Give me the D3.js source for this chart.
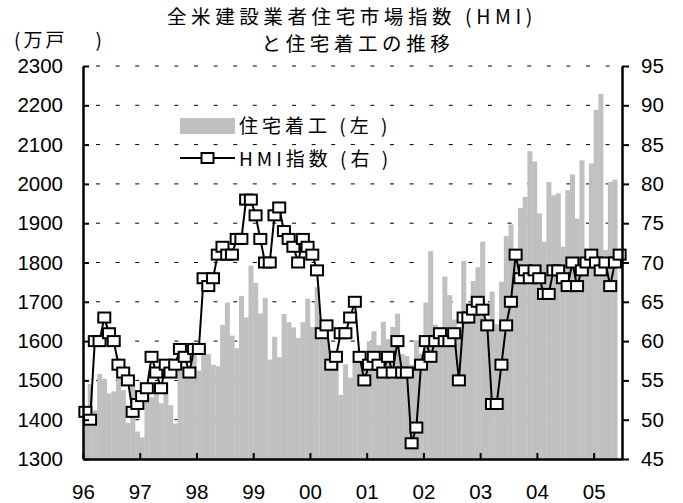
<!DOCTYPE html>
<html>
<head>
<meta charset="utf-8">
<script src="https://cdn.jsdelivr.net/npm/d3@7"></script>
<style>
body { margin: 0; background: #fff; }
text { font-family: "Liberation Sans", Arial, "Noto Sans CJK JP", sans-serif; fill: #000; }
.jp { font-family: "Noto Sans CJK JP", sans-serif; }
</style>
</head>
<body>
<svg id="chart" width="683" height="503"></svg>
<script>
// ---- data (monthly, Jan 1996 - ) ----

// housing starts, 万戸 (Jan 1996 - May 2005)
var starts1996 = [1431, 1491, 1424, 1516, 1504, 1467, 1472, 1557, 1475, 1392, 1489, 1370];
var starts1997 = [1355, 1486, 1457, 1492, 1442, 1494, 1437, 1390, 1546, 1520, 1510, 1566];
var starts1998 = [1525, 1584, 1567, 1540, 1536, 1641, 1698, 1614, 1582, 1715, 1660, 1792];
var starts1999 = [1748, 1670, 1710, 1553, 1611, 1559, 1669, 1648, 1635, 1608, 1648, 1708];
var starts2000 = [1636, 1737, 1604, 1626, 1575, 1559, 1463, 1541, 1507, 1549, 1551, 1532];
var starts2001 = [1600, 1625, 1590, 1649, 1605, 1636, 1670, 1567, 1562, 1540, 1602, 1568];
var starts2002 = [1698, 1829, 1642, 1592, 1764, 1717, 1655, 1633, 1804, 1648, 1753, 1788];
var starts2003 = [1853, 1629, 1726, 1643, 1751, 1867, 1897, 1833, 1939, 1967, 2083, 2057];
var starts2004 = [1925, 1853, 2005, 1971, 1976, 1840, 1984, 2024, 1912, 2060, 1782, 2052];
var starts2005 = [2188, 2229, 1832, 2005, 2011];

// HMI (Jan 1996 - Jun 2005)
var hmi1996 = [51, 50, 60, 60, 63, 61, 60, 57, 56, 55, 51, 52];
var hmi1997 = [53, 54, 58, 56, 54, 57, 56, 57, 59, 58, 56, 59];
var hmi1998 = [59, 68, 67, 68, 71, 72, 71, 71, 73, 73, 78, 78];
var hmi1999 = [76, 73, 70, 70, 76, 77, 74, 73, 72, 70, 73, 72];
var hmi2000 = [71, 69, 61, 62, 57, 58, 61, 61, 63, 65, 58, 55];
var hmi2001 = [57, 58, 57, 56, 58, 56, 60, 56, 56, 47, 49, 57];
var hmi2002 = [60, 58, 60, 61, 60, 60, 61, 55, 63, 63, 64, 65];
var hmi2003 = [64, 62, 52, 52, 57, 62, 65, 71, 68, 69, 68, 69];
var hmi2004 = [68, 66, 66, 69, 69, 68, 67, 70, 67, 69, 70, 71];
var hmi2005 = [70, 69, 70, 67, 70, 71];

var yearLabels = ["96", "97", "98", "99", "00", "01", "02", "03", "04", "05"];
var leftTicks = [1300, 1400, 1500, 1600, 1700, 1800, 1900, 2000, 2100, 2200, 2300];
var rightTicks = [45, 50, 55, 60, 65, 70, 75, 80, 85, 90, 95];

var starts = [].concat(starts1996, starts1997, starts1998, starts1999, starts2000,
                       starts2001, starts2002, starts2003, starts2004, starts2005);
var hmi = [].concat(hmi1996, hmi1997, hmi1998, hmi1999, hmi2000,
                    hmi2001, hmi2002, hmi2003, hmi2004, hmi2005);

// ---- layout ----
var plotL = 83, plotR = 622, plotT = 66, plotB = 459;
var nMonths = hmi.length;

var svg = d3.select("#chart");

var x = d3.scaleLinear().domain([0, nMonths]).range([plotL, plotR]);
var yL = d3.scaleLinear().domain([1300, 2300]).range([plotB, plotT]);
var yR = d3.scaleLinear().domain([45, 95]).range([plotB, plotT]);

// dashed grid (behind the bars)
svg.append("g")
    .selectAll("line")
    .data(leftTicks.slice(1))
    .enter()
    .append("line")
    .attr("x1", plotL)
    .attr("x2", plotR)
    .attr("y1", function (d) { return yL(d); })
    .attr("y2", function (d) { return yL(d); })
    .attr("stroke", "#000")
    .attr("stroke-width", 1)
    .attr("stroke-dasharray", "4,15.6")
    .attr("stroke-dashoffset", -13);

// housing starts bars
svg.append("g")
    .selectAll("rect")
    .data(starts)
    .enter()
    .append("rect")
    .attr("x", function (d, i) { return x(i); })
    .attr("width", function (d, i) { return x(i + 1) - x(i) + 0.3; })
    .attr("y", function (d) { return yL(d); })
    .attr("height", function (d) { return plotB - yL(d); })
    .attr("fill", "#c0c0c0");

// HMI line
var line = d3.line()
    .x(function (d, i) { return x(i + 0.5); })
    .y(function (d) { return yR(d); });

svg.append("path")
    .datum(hmi)
    .attr("d", line)
    .attr("fill", "none")
    .attr("stroke", "#000")
    .attr("stroke-width", 2);

var bw = 12, bh = 10; // marker box
svg.append("g")
    .selectAll("rect")
    .data(hmi)
    .enter()
    .append("rect")
    .attr("x", function (d, i) { return x(i + 0.5) - bw / 2; })
    .attr("y", function (d) { return yR(d) - bh / 2; })
    .attr("width", bw)
    .attr("height", bh)
    .attr("fill", "#fff")
    .attr("stroke", "#000")
    .attr("stroke-width", 2);

// axes
var axisL = d3.axisLeft(yL).tickValues(leftTicks).tickFormat(d3.format("d")).tickSize(-6).tickPadding(20);
var axisR = d3.axisRight(yR).tickValues(rightTicks).tickSize(7).tickPadding(12);
var axisB = d3.axisBottom(x)
    .tickValues(d3.range(0, nMonths, 12))
    .tickFormat(function (d) { return yearLabels[d / 12]; })
    .tickSize(-6)
    .tickPadding(25);

function styleAxis(g) {
    g.select(".domain").attr("stroke", "#000").attr("stroke-width", 2.5);
    g.selectAll(".tick line").attr("stroke", "#000").attr("stroke-width", 2);
    g.selectAll(".tick text")
        .attr("font-size", 20.5)
        .attr("fill", "#000")
        .style("font-family", "'Liberation Sans', Arial, sans-serif");
}

svg.append("g").attr("transform", "translate(" + plotL + ",0)").call(axisL.tickSizeOuter(0)).call(styleAxis);
svg.append("g").attr("transform", "translate(" + plotR + ",0)").call(axisR.tickSizeOuter(0)).call(styleAxis);
svg.append("g").attr("transform", "translate(0," + plotB + ")").call(axisB.tickSizeOuter(0)).call(styleAxis);

// titles
svg.append("text")
    .attr("class", "jp")
    .attr("x", 352).attr("y", 24)
    .attr("text-anchor", "middle")
    .attr("font-size", 19.5)
    .attr("letter-spacing", 4.6)
    .text("全米建設業者住宅市場指数 (HMI)");

svg.append("text")
    .attr("class", "jp")
    .attr("x", 358).attr("y", 51)
    .attr("text-anchor", "middle")
    .attr("font-size", 19.5)
    .attr("letter-spacing", 4.6)
    .text("と住宅着工の推移");

var unit = svg.append("text")
    .attr("class", "jp")
    .attr("x", 14).attr("y", 47)
    .attr("font-size", 19)
    .attr("letter-spacing", 3)
    .text("(万戸");
unit.append("tspan").attr("dx", 28).text(")");

// legend
var lg = svg.append("g").attr("transform", "translate(180,118)");
lg.append("rect")
    .attr("x", 0).attr("y", 0)
    .attr("width", 55).attr("height", 16)
    .attr("fill", "#c0c0c0");
lg.append("text")
    .attr("class", "jp")
    .attr("x", 59).attr("y", 15)
    .attr("font-size", 19)
    .attr("letter-spacing", 4)
    .text("住宅着工 (左 )");
lg.append("line")
    .attr("x1", 0).attr("x2", 55)
    .attr("y1", 40).attr("y2", 40)
    .attr("stroke", "#000").attr("stroke-width", 2);
lg.append("rect")
    .attr("x", 27.5 - bw / 2).attr("y", 40 - bh / 2)
    .attr("width", bw).attr("height", bh)
    .attr("fill", "#fff").attr("stroke", "#000").attr("stroke-width", 2);
lg.append("text")
    .attr("class", "jp")
    .attr("x", 59).attr("y", 48)
    .attr("font-size", 19)
    .attr("letter-spacing", 4)
    .text("HMI指数 (右 )");
</script>
</body>
</html>
